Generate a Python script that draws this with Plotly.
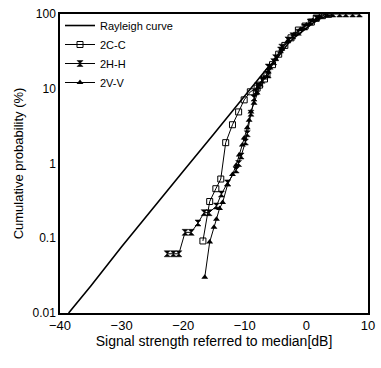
import plotly.graph_objects as go

# Rayleigh curve
ray_db = [-38.6, -35, -30, -25, -20, -15, -10, -8, -6.2, -5, -4, -3, -2, -1, 0, 1, 2, 3, 4]
ray_p = [0.01, 0.023, 0.077, 0.25, 0.79, 2.5, 8.1, 12.9, 19.5, 24, 31, 40, 48, 56, 65, 75, 85, 92, 97]

# 2C-C (open squares)
cc_db = [-16.8, -15.7, -14.7, -13.9, -13.1, -12.0, -11.0, -10.1, -9.1, -8.0, -7.6, -6.8, -6.4,
         -5.5, -4.5, -3.5, -2.5, -1.3, -0.2, 0.8, 1.6, 2.6, 3.6]
cc_p = [0.092, 0.31, 0.46, 0.62, 1.9, 3.3, 4.9, 7.1, 9.1, 10.2, 11.2, 13.5, 15.5,
        21, 29, 38, 48, 61, 69, 78, 88, 95, 99]

# 2H-H (hourglass markers)
hh_db = [-22.6, -21.6, -20.7, -19.7, -18.7, -17.6, -16.6, -15.8, -14.6, -13.8, -12.8, -11.4, -11.0,
         -10.6, -9.9, -9.6, -9.0, -8.5, -8.2, -7.9, -7.2, -6.2, -6.2, -5.3, -5.0, -4.2, -4.0,
         -3.0, -2.2, -1.3, -0.3, 0.6, 1.6, 2.4, 3.4, 4.3, 5.4, 6.4, 7.5, 8.6]
hh_p = [0.062, 0.062, 0.062, 0.12, 0.12, 0.16, 0.22, 0.22, 0.27, 0.39, 0.55, 0.82, 1.0,
        1.26, 1.94, 2.5, 4.7, 7.5, 9.1, 11, 13, 15.3, 19.5, 23, 26, 33, 36,
        45, 51, 57, 67, 78, 88, 97, 100, 100, 100, 100, 100, 100]

# 2V-V (filled triangles)
vv_db = [-16.5, -15.7, -15.0, -14.6, -14.1, -13.6, -12.8, -12.0, -11.4, -10.9, -10.4, -10.1, -9.6,
         -9.3, -9.0, -8.5, -8.0, -7.5, -6.9, -6.2, -5.9, -5.0, -4.0, -3.0, -2.0, -1.0, 0.0, 1.0, 2.0]
vv_p = [0.03, 0.089, 0.14, 0.18, 0.25, 0.30, 0.52, 0.71, 0.95, 1.3, 1.77, 2.2, 3.0,
        3.8, 4.9, 6.4, 8.8, 11.2, 13.9, 16.7, 18.9, 25, 34, 44, 53, 62, 71, 81, 90]

x_ticks = [-40, -30, -20, -10, 0, 10]
y_ticks = [0.01, 0.1, 1, 10, 100]
y_tick_text = ["0.01", "0.1", "1", "10", "100"]

fig = go.Figure()
fig.add_trace(go.Scatter(x=ray_db, y=ray_p, mode="lines", name="Rayleigh curve",
                         line=dict(color="black", width=1.6)))
fig.add_trace(go.Scatter(x=cc_db, y=cc_p, mode="lines+markers", name="2C-C",
                         line=dict(color="black", width=1),
                         marker=dict(symbol="square-open", size=6, color="black",
                                     line=dict(width=1, color="black"))))
fig.add_trace(go.Scatter(x=hh_db, y=hh_p, mode="lines+markers", name="2H-H",
                         line=dict(color="black", width=1),
                         marker=dict(symbol="hourglass", size=6, color="black",
                                     line=dict(width=0.5, color="black"))))
fig.add_trace(go.Scatter(x=vv_db, y=vv_p, mode="lines+markers", name="2V-V",
                         line=dict(color="black", width=1),
                         marker=dict(symbol="triangle-up", size=6, color="black")))

fig.update_layout(
    width=381, height=368,
    margin=dict(l=60, r=6, t=14, b=55),
    paper_bgcolor="white", plot_bgcolor="white",
    font=dict(family="Liberation Sans, Arial, sans-serif", color="black", size=12),
    legend=dict(x=0.0, y=1.01, xanchor="left", yanchor="top",
                bgcolor="rgba(0,0,0,0)", borderwidth=0,
                font=dict(size=11), itemwidth=30, tracegroupgap=0),
    showlegend=True,
)
fig.update_xaxes(range=[-40, 10], tickvals=x_ticks, showgrid=False, zeroline=False,
                 showline=True, linecolor="black", linewidth=1.5, mirror=True,
                 ticks="", tickfont=dict(size=13),
                 title=dict(text="Signal strength referred to median[dB]", font=dict(size=14), standoff=4))
fig.update_yaxes(type="log", range=[-2, 2], tickvals=y_ticks, ticktext=y_tick_text,
                 showgrid=False, zeroline=False,
                 showline=True, linecolor="black", linewidth=1.5, mirror=True,
                 ticks="", tickfont=dict(size=12),
                 title=dict(text="Cumulative probability (%)", font=dict(size=13), standoff=6))

fig.write_html("out.html")
